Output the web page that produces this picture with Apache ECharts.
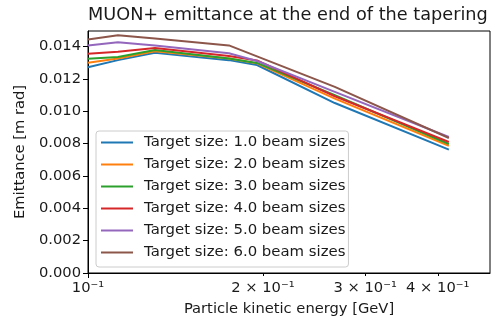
<!DOCTYPE html>
<html>
<head>
<meta charset="utf-8">
<script src="https://cdn.jsdelivr.net/npm/echarts@6/dist/echarts.min.js"></script>
<style>
html,body{margin:0;padding:0;background:#fff;}
#c{width:495px;height:322px;}
</style>
</head>
<body>
<div id="c"></div>
<script>
const energies = [0.1, 0.1126, 0.1304, 0.1748, 0.1954, 0.266, 0.418];
const seriesNames = [
  'Target size: 1.0 beam sizes',
  'Target size: 2.0 beam sizes',
  'Target size: 3.0 beam sizes',
  'Target size: 4.0 beam sizes',
  'Target size: 5.0 beam sizes',
  'Target size: 6.0 beam sizes'
];
const size1 = [0.01271, 0.01315, 0.01360, 0.01315, 0.01285, 0.01050, 0.00762];
const size2 = [0.01299, 0.01325, 0.01370, 0.01325, 0.01295, 0.01077, 0.00786];
const size3 = [0.01323, 0.01335, 0.01377, 0.01325, 0.01298, 0.01098, 0.00797];
const size4 = [0.01354, 0.01367, 0.01390, 0.01340, 0.01313, 0.01092, 0.00809];
const size5 = [0.01406, 0.01426, 0.01405, 0.01357, 0.01310, 0.01119, 0.00840];
const size6 = [0.01443, 0.01469, 0.01449, 0.01406, 0.01338, 0.01150, 0.00834];
const allValues = [size1, size2, size3, size4, size5, size6];
const colors = ['#1f77b4', '#ff7f0e', '#2ca02c', '#d62728', '#9467bd', '#8c564b'];
const xMajorTicks = [0.1];
const xMajorLabels = ['10⁻¹'];
const xMinorTicks = [0.2, 0.3, 0.4];
const xMinorLabels = ['2 × 10⁻¹', '3 × 10⁻¹', '4 × 10⁻¹'];
const yTicks = [0, 0.002, 0.004, 0.006, 0.008, 0.010, 0.012, 0.014];

const FONT = 'DejaVu Sans';
const TXT = '#1a1a1a';
const xMin = 0.1, xMax = 0.492, yMin = 0, yMax = 0.01495;

const chart = echarts.init(document.getElementById('c'), null, {renderer: 'canvas'});

function labelFor(values, labels) {
  return function (v) {
    for (let i = 0; i < values.length; i++) {
      if (Math.abs(values[i] - v) < 1e-6) return labels[i];
    }
    return '';
  };
}

const series = allValues.map((vals, i) => ({
  name: seriesNames[i],
  type: 'line',
  xAxisIndex: 0,
  yAxisIndex: 0,
  data: energies.map((e, j) => [e, vals[j]]),
  symbol: 'none',
  lineStyle: {width: 2, color: colors[i]},
  itemStyle: {color: colors[i]},
  z: 2 + i,
  animation: false
}));

chart.setOption({
  animation: false,
  backgroundColor: '#fff',
  title: {
    text: 'MUON+ emittance at the end of the tapering',
    left: 88,
    top: 6,
    padding: 0,
    textStyle: {fontFamily: FONT, fontSize: 17.7, fontWeight: 'normal', color: TXT}
  },
  grid: {
    left: 88, right: 5, top: 31, bottom: 49,
    show: true, borderColor: '#000', borderWidth: 1, backgroundColor: 'transparent'
  },
  legend: {
    orient: 'vertical',
    left: 96, top: 131,
    padding: [3, 3, 6, 5],
    itemGap: 5,
    itemWidth: 32,
    itemHeight: 2,
    icon: 'rect',
    backgroundColor: 'rgba(255,255,255,0.8)',
    borderColor: '#cccccc',
    borderWidth: 1,
    borderRadius: 3,
    textStyle: {fontFamily: FONT, fontSize: 14.9, color: TXT, lineHeight: 17, padding: [0, 0, 0, 6]},
    data: seriesNames
  },
  xAxis: [{
    type: 'log',
    logBase: 10,
    min: xMin, max: xMax,
    name: 'Particle kinetic energy [GeV]',
    nameLocation: 'middle',
    nameGap: 29,
    nameTextStyle: {fontFamily: FONT, fontSize: 14.7, color: TXT},
    axisLine: {show: true, lineStyle: {color: '#000', width: 1}},
    axisTick: {show: true, inside: false, length: 5, customValues: xMajorTicks, lineStyle: {color: '#000'}},
    axisLabel: {show: true, customValues: xMajorTicks, margin: 8, fontFamily: FONT, fontSize: 14.7, color: TXT,
      formatter: labelFor(xMajorTicks, xMajorLabels)},
    splitLine: {show: false},
    minorTick: {show: false}
  }, {
    type: 'log',
    logBase: 10,
    min: xMin, max: xMax,
    position: 'bottom',
    gridIndex: 0,
    axisLine: {show: false},
    axisTick: {show: true, inside: false, length: 3, customValues: xMinorTicks, lineStyle: {color: '#000'}},
    axisLabel: {show: true, customValues: xMinorTicks, margin: 8, fontFamily: FONT, fontSize: 14.7, color: TXT,
      formatter: labelFor(xMinorTicks, xMinorLabels)},
    splitLine: {show: false}
  }],
  yAxis: [{
    type: 'value',
    min: yMin, max: yMax,
    name: 'Emittance [m rad]',
    nameLocation: 'middle',
    nameGap: 60,
    nameRotate: 90,
    nameTextStyle: {fontFamily: FONT, fontSize: 14.7, color: TXT},
    axisLine: {show: true, lineStyle: {color: '#000', width: 1}},
    axisTick: {show: true, inside: false, length: 5, customValues: yTicks, lineStyle: {color: '#000'}},
    axisLabel: {show: true, customValues: yTicks, margin: 7, fontFamily: FONT, fontSize: 14.7, color: TXT,
      formatter: v => v.toFixed(3)},
    splitLine: {show: false}
  }],
  series: series
});
</script>
</body>
</html>
